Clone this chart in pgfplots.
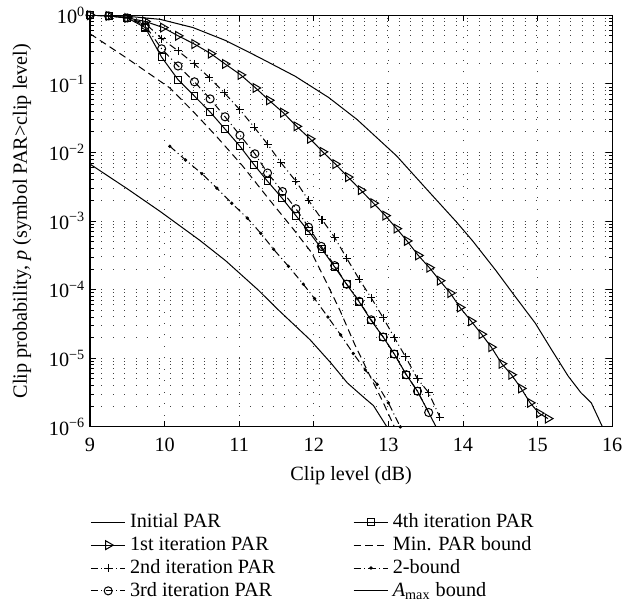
\documentclass[border=0pt]{standalone}
\usepackage{fontspec}
\setmainfont{Liberation Serif}
\usepackage{pgfplots}
\pgfplotsset{compat=1.18}

\pgfplotstableread{
x p
9.00 1.0
9.50 0.966
9.94 0.871
10.38 0.661
10.82 0.427
11.26 0.245
11.75 0.129
12.20 0.0631
12.58 0.0302
13.11 8.91e-3
13.55 2.63e-3
13.91 9.77e-4
14.13 5.13e-4
14.44 1.91e-4
14.70 7.94e-5
14.97 3.24e-5
15.19 1.32e-5
15.41 5.50e-6
15.58 3.16e-6
15.72 2.24e-6
15.87 1.0e-6
}\initialpar

\pgfplotstableread{
x p
9.00 1.0
9.25 0.977
9.50 0.912
9.74 0.813
9.98 0.661
10.18 0.501
10.40 0.380
10.62 0.275
10.81 0.195
11.02 0.135
11.22 0.0871
11.40 0.0575
11.59 0.0380
11.77 0.0240
11.95 0.0158
12.12 0.0102
12.29 6.76e-3
12.46 4.37e-3
12.63 2.82e-3
12.80 1.82e-3
12.96 1.20e-3
13.11 7.76e-4
13.25 5.13e-4
13.40 3.16e-4
13.55 2.09e-4
13.69 1.35e-4
13.83 8.91e-5
13.96 5.50e-5
14.11 3.47e-5
14.25 2.24e-5
14.38 1.45e-5
14.52 8.32e-6
14.65 5.75e-6
14.78 3.63e-6
14.90 2.24e-6
15.02 1.58e-6
15.14 1.32e-6
}\firstit

\pgfplotstableread{
x p
9.00 1.0
9.25 0.977
9.50 0.912
9.74 0.759
9.96 0.457
10.18 0.302
10.40 0.195
10.60 0.123
10.80 0.0741
11.01 0.0417
11.20 0.0234
11.38 0.0132
11.56 7.08e-3
11.76 3.80e-3
11.93 2.00e-3
12.11 1.05e-3
12.28 5.75e-4
12.44 2.88e-4
12.61 1.41e-4
12.77 7.59e-5
12.93 3.89e-5
13.08 2.00e-5
13.23 1.05e-5
13.39 5.01e-6
13.54 3.16e-6
13.69 1.38e-6
}\secondit

\pgfplotstableread{
x p
9.00 1.0
9.25 0.977
9.50 0.912
9.74 0.708
9.96 0.324
10.18 0.182
10.40 0.107
10.61 0.0603
10.81 0.0331
11.01 0.0178
11.21 9.55e-3
11.38 5.01e-3
11.58 2.69e-3
11.76 1.51e-3
11.93 8.13e-4
12.10 4.27e-4
12.28 2.24e-4
12.44 1.20e-4
12.61 6.76e-5
12.77 3.63e-5
12.93 2.04e-5
13.08 1.15e-5
13.24 5.75e-6
13.39 3.31e-6
13.54 1.62e-6
}\thirdit

\pgfplotstableread{
x p
9.00 1.0
9.25 0.977
9.50 0.912
9.74 0.661
9.96 0.245
10.18 0.115
10.40 0.0661
10.61 0.0389
10.81 0.0219
11.01 0.0123
11.20 6.61e-3
11.38 3.80e-3
11.57 2.19e-3
11.76 1.20e-3
11.93 7.08e-4
12.11 3.89e-4
12.28 2.14e-4
12.44 1.20e-4
12.61 6.61e-5
12.77 3.55e-5
12.93 2.04e-5
13.08 1.15e-5
13.24 5.75e-6
13.39 3.31e-6
}\fourthit

\pgfplotstableread{
x p
13.39 3.31e-6
13.64 1.0e-6
}\fourthtail

\pgfplotstableread{
x p
9.00 0.537
9.50 0.234
10.07 0.0871
10.38 0.0398
10.69 0.0174
11.04 6.46e-3
11.39 2.14e-3
11.72 7.76e-4
11.97 3.47e-4
12.15 1.41e-4
12.35 5.01e-5
12.55 1.58e-5
12.75 5.62e-6
12.92 2.40e-6
13.08 1.0e-6
}\minpar

\pgfplotstableread{
x p
10.07 0.0123
10.28 7.76e-3
10.50 4.90e-3
10.70 3.02e-3
10.90 1.82e-3
11.11 1.10e-3
11.29 6.61e-4
11.46 3.89e-4
11.66 2.19e-4
11.86 1.20e-4
12.01 7.41e-5
12.19 3.98e-5
12.36 2.19e-5
12.53 1.17e-5
12.69 6.76e-6
12.85 4.17e-6
13.00 2.24e-6
13.16 1.0e-6
}\twobound

\pgfplotstableread{
x p
9.00 6.76e-3
9.50 2.95e-3
9.94 1.38e-3
10.47 5.25e-4
10.82 2.63e-4
11.26 9.77e-5
11.50 5.37e-5
11.95 1.86e-5
12.23 8.51e-6
12.45 4.37e-6
12.67 2.69e-6
12.80 2.04e-6
12.98 1.0e-6
}\amax

\tikzset{
  mydash/.style={dash pattern=on 3.6pt off 2.2pt},
  mydashdot/.style={dash pattern=on 3.6pt off 1.6pt on 0.5pt off 1.6pt},
}

\begin{document}
\begin{tikzpicture}
\begin{axis}[
  scale only axis, width=258pt, height=203.4pt,
  xmin=9, xmax=16, ymin=1e-6, ymax=1, ymode=log,
  xtick={9,10,...,16},
  ytick={1e-6,1e-5,1e-4,1e-3,1e-2,1e-1,1},
  yticklabels={10\textsuperscript{−6},10\textsuperscript{−5},10\textsuperscript{−4},10\textsuperscript{−3},10\textsuperscript{−2},10\textsuperscript{−1},10\textsuperscript{0}},
  /pgf/number format/assume math mode=true,
  xticklabel style={yshift=-2.2pt},
  yticklabel style={xshift=1.2pt},
  tick align=inside, major tick length=3pt, minor tick length=1.8pt,
  every tick/.style={black, line width=0.4pt},
  xmajorgrids, ymajorgrids, yminorgrids,
  major grid style={black!75, line width=0.45pt, dash pattern=on 0.45pt off 5.2pt},
  minor grid style={black!75, line width=0.45pt, dash pattern=on 0.45pt off 5.2pt},
  axis line style={line width=0.6pt},
  xlabel={Clip level (dB)},
  xlabel style={at={(axis description cs:0.5,0)}, anchor=center, yshift=-23.9pt},
  ylabel={Clip probability, \textit{p} (symbol PAR>clip level)},
  ylabel style={at={(axis description cs:-0.130,0.5)}, anchor=center, rotate=0, inner ysep=6.4pt},
  every axis plot/.append style={black, line width=0.5pt},
  legend columns=2,
  legend cell align=left,
  legend style={at={(0,-0.193)}, anchor=north west, draw=none, fill=none,
    inner xsep=0pt, inner ysep=1.5pt, row sep=-1.15pt,
    /tikz/every even column/.append style={column sep=36.4pt}},
]
\addplot[no marks] table[x=x,y=p]{\initialpar};
\addlegendentry{Initial PAR}
\addplot[mark=square, mark size=1.7pt] table[x=x,y=p]{\fourthit};
\addlegendentry{4th iteration PAR}
\addplot[mark=triangle, mark size=2.5pt, mark options={rotate=-90}] table[x=x,y=p]{\firstit};
\addlegendentry{1st iteration PAR}
\addplot[no marks, mydash] table[x=x,y=p]{\minpar};
\addlegendentry{Min. PAR bound}
\addplot[mark=+, mark size=2pt, mydashdot, mark options={solid}] table[x=x,y=p]{\secondit};
\addlegendentry{2nd iteration PAR}
\addplot[mark=*, mark size=0.55pt, mydashdot, mark options={solid}] table[x=x,y=p]{\twobound};
\addlegendentry{2-bound}
\addplot[mark=o, mark size=2pt, mydashdot, mark options={solid}] table[x=x,y=p]{\thirdit};
\addlegendentry{3rd iteration PAR}
\addplot[no marks] table[x=x,y=p]{\amax};
\addlegendentry{\textit{A}\textsubscript{max} bound}
\addplot[no marks, forget plot] table[x=x,y=p]{\fourthtail};
\end{axis}
\end{tikzpicture}
\end{document}
